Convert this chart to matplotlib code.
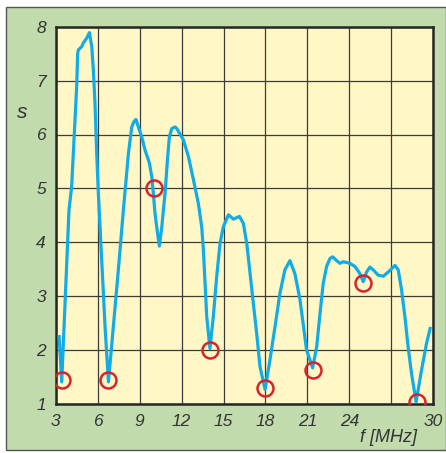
import matplotlib
matplotlib.use("Agg")
import matplotlib.pyplot as plt
from matplotlib.patches import Rectangle

# data
freq = [3.24, 3.43, 3.95, 4.14, 4.38, 4.5, 4.57, 4.62, 4.86, 4.98, 5.22, 5.41, 5.58, 5.69,
        5.81, 5.93, 6.05, 6.29, 6.53, 6.77, 7.12, 7.48, 7.84, 8.2, 8.44, 8.6, 8.74, 8.91,
        9.15, 9.39, 9.7, 9.87, 9.98, 10.1, 10.22, 10.41, 10.59, 10.7, 10.82, 10.99, 11.13,
        11.3, 11.54, 11.66, 12.13, 12.49, 12.85, 13.2, 13.44, 13.56, 13.68, 13.8, 14.03,
        14.27, 14.51, 14.75, 14.99, 15.35, 15.71, 16.14, 16.42, 16.66, 16.9, 17.13, 17.37,
        17.61, 17.97, 18.32, 18.68, 19.03, 19.39, 19.75, 20.1, 20.46, 20.94, 21.37, 21.66,
        21.9, 22.13, 22.37, 22.61, 22.8, 23.09, 23.33, 23.56, 24.04, 24.4, 24.75, 24.99,
        25.23, 25.47, 25.7, 26.06, 26.42, 26.78, 27.26, 27.49, 27.73, 27.97, 28.2, 28.44,
        28.77, 29.16, 29.52, 29.8]
swr = [2.28, 1.41, 4.6, 5.03, 6.27, 6.89, 7.5, 7.57, 7.63, 7.7, 7.79, 7.89, 7.63, 7.2,
       6.58, 5.66, 4.91, 3.67, 2.43, 1.41, 2.43, 3.49, 4.6, 5.65, 6.14, 6.24, 6.28, 6.14,
       5.96, 5.71, 5.47, 5.22, 4.91, 4.54, 4.29, 3.93, 4.29, 4.6, 4.91, 5.53, 5.96,
       6.11, 6.14, 6.11, 5.9, 5.59, 5.16, 4.72, 4.29, 3.86, 3.24, 2.62, 2.03,
       2.62, 3.36, 3.98, 4.29, 4.51, 4.43, 4.48, 4.35, 3.98, 3.42, 2.87, 2.31,
       1.69, 1.27, 1.82, 2.43, 3.05, 3.49, 3.66, 3.42, 2.95, 2.0, 1.67, 2.06,
       2.68, 3.24, 3.55, 3.7, 3.73, 3.66, 3.61, 3.64, 3.61, 3.55, 3.42, 3.27,
       3.45, 3.54, 3.49, 3.39, 3.37, 3.45, 3.57, 3.49, 3.12, 2.62, 2.06, 1.57,
       1.04, 1.63, 2.13, 2.43]

mark_f = [3.43, 6.77, 10.0, 14.04, 17.97, 21.37, 24.99, 28.8]
mark_s = [1.45, 1.45, 5.0, 2.0, 1.29, 1.64, 3.24, 1.04]

xticks = [3, 6, 9, 12, 15, 18, 21, 24, 27, 30]
xticklabels = ["3", "6", "9", "12", "15", "18", "21", "24", "", "30"]
yticks = [1, 2, 3, 4, 5, 6, 7, 8]

plt.rcParams['font.family'] = ['Liberation Sans', 'DejaVu Sans']

W, H = 446, 453
fig = plt.figure(figsize=(W / 100, H / 100), dpi=100)
fig.patch.set_facecolor('white')

# green panel
fig.patches.append(Rectangle((6 / W, 3 / H), (W - 6) / W, (446 - 3) / H,
                             transform=fig.transFigure, facecolor='#c1dbad',
                             edgecolor='#555555', linewidth=1.0, zorder=-10))

ax = fig.add_axes([55.7 / W, (H - 404) / H, (433.3 - 55.7) / W, (404 - 26.7) / H])
ax.set_zorder(5)
ax.set_facecolor('#fff8c6')
ax.set_xlim(3, 30)
ax.set_ylim(1, 8)
ax.set_xticks(xticks)
ax.set_xticklabels(xticklabels)
ax.set_yticks(yticks)
ax.grid(True, color='#3c3c3c', linewidth=0.9)
ax.set_axisbelow(True)
for sp in ax.spines.values():
    sp.set_color('#262626')
    sp.set_linewidth(1.8)
ax.tick_params(length=0, labelsize=12.5, labelcolor='#333333', pad=7)
for lab in ax.get_xticklabels() + ax.get_yticklabels():
    lab.set_fontstyle('italic')

ax.plot(freq, swr, color='#11ace6', linewidth=2.3, solid_joinstyle='round',
        solid_capstyle='butt', zorder=3)
ax.plot(mark_f, mark_s, linestyle='none', marker='o', markersize=11.5,
        markerfacecolor='none', markeredgecolor='#d4242c', markeredgewidth=1.8,
        zorder=4)

fig.text(22 / W, 1 - 113 / H, 's', fontsize=15, fontstyle='italic', color='#333333',
         ha='center', va='center', zorder=6)
fig.text(417 / W, 1 - 437 / H, 'f [MHz]', fontsize=13, fontstyle='italic', color='#333333',
         ha='right', va='center', zorder=6)

fig.savefig('out.png', dpi=100)
